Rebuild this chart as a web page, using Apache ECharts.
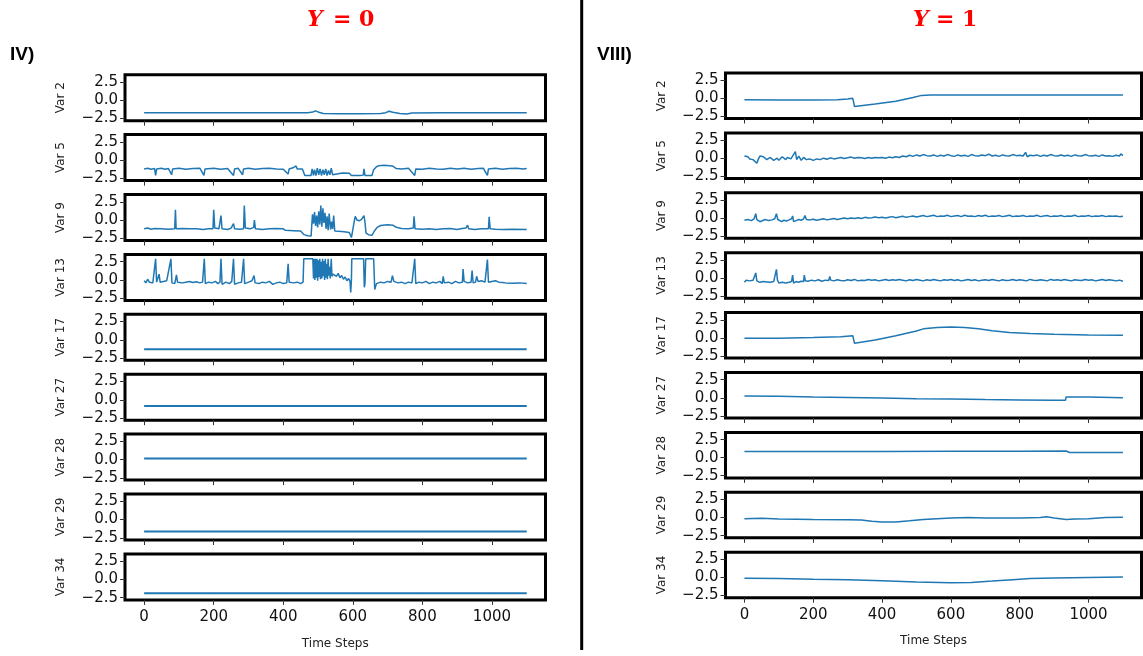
<!DOCTYPE html>
<html>
<head>
<meta charset="utf-8">
<script src="https://cdn.jsdelivr.net/npm/echarts@6.0.0/dist/echarts.min.js"></script>
<style>
html,body{margin:0;padding:0;background:#fff;}
#chart{width:1143px;height:656px;}
</style>
</head>
<body>
<div id="chart"></div>
<script>
// ---------- tick labels / categories ----------
const X_TICKS = [0, 200, 400, 600, 800, 1000];
const Y_TICKS = [-2.5, 0, 2.5];
const VAR_NAMES = ['Var 2', 'Var 5', 'Var 9', 'Var 13', 'Var 17', 'Var 27', 'Var 28', 'Var 29', 'Var 34'];
const PANEL_TITLES = ['Y = 0', 'Y = 1'];
const PANEL_TAGS = ['IV)', 'VIII)'];
const X_NAME = 'Time Steps';

// ---------- left panel (Y = 0) series: [time step, value] ----------
const L2 = [[0,-1.72],[100,-1.7],[200,-1.72],[300,-1.7],[400,-1.7],[470,-1.7],[485,-1.6],[493,-1.45],[500,-1.6],[515,-1.82],[560,-1.85],[620,-1.85],[680,-1.82],[695,-1.7],[704,-1.5],[715,-1.65],[735,-1.82],[755,-1.88],[770,-1.75],[850,-1.72],[1000,-1.72],[1100,-1.72]];
const L5 = [[0,-1.2],[10,-1.1],[20,-1.25],[30,-1.15],[33,-2.1],[36,-1.2],[50,-1.1],[60,-1.25],[70,-1.15],[79,-2.0],[82,-1.2],[100,-1.1],[120,-1.25],[140,-1.15],[160,-1.1],[172,-2.1],[175,-1.2],[200,-1.1],[220,-1.25],[240,-1.15],[257,-2.1],[260,-1.2],[270,-1.1],[283,-2.0],[286,-1.2],[300,-1.1],[320,-1.25],[340,-1.15],[360,-1.1],[380,-1.2],[400,-1.25],[414,-1.9],[417,-1.2],[430,-1.0],[437,-0.8],[440,-1.2],[455,-1.2],[462,-2.1],[480,-2.1],[483,-1.2],[487,-2.1],[490,-1.3],[494,-2.1],[498,-1.1],[502,-2.0],[506,-1.2],[510,-2.1],[514,-1.3],[518,-2.0],[522,-1.2],[526,-2.1],[530,-1.4],[534,-2.0],[538,-1.1],[542,-2.0],[545,-1.8],[570,-1.75],[590,-1.8],[596,-2.1],[620,-2.1],[630,-2.05],[632,-1.2],[635,-2.1],[655,-2.1],[660,-1.3],[668,-0.9],[675,-0.75],[690,-0.7],[705,-0.75],[714,-0.8],[725,-1.15],[740,-1.2],[760,-1.1],[778,-2.1],[781,-1.2],[800,-1.25],[820,-1.1],[840,-1.2],[860,-1.25],[880,-1.1],[900,-1.2],[920,-1.1],[940,-1.25],[960,-1.15],[975,-1.1],[987,-2.1],[990,-1.2],[1010,-1.1],[1030,-1.25],[1050,-1.15],[1070,-1.1],[1090,-1.2],[1100,-1.15]];
const L9 = [[0,-1.2],[10,-1.1],[20,-1.25],[30,-1.15],[50,-1.2],[70,-1.25],[88,-1.2],[90,1.4],[92,-1.2],[110,-1.15],[130,-1.2],[150,-1.2],[170,-1.3],[185,-1.2],[198,-1.2],[200,1.4],[203,-1.1],[215,-1.2],[221,0.6],[224,-1.2],[240,-1.3],[250,-1.1],[257,-0.5],[260,-1.2],[275,-1.25],[286,-1.2],[288,2.0],[291,-1.1],[305,-1.2],[315,-1.0],[317,0.0],[320,-1.2],[340,-1.3],[360,-1.2],[380,-1.15],[400,-1.2],[406,-1.4],[430,-1.45],[450,-1.5],[460,-2.0],[470,-2.15],[480,-2.2],[484,0.8],[487,-0.5],[490,1.1],[493,-0.8],[496,0.6],[499,-1.0],[502,1.2],[505,-0.6],[508,2.0],[511,-0.9],[514,1.6],[517,-0.4],[520,1.0],[523,-1.2],[526,0.5],[529,-1.4],[532,0.9],[536,-1.3],[539,-0.2],[542,-1.2],[545,0.6],[548,-1.5],[560,-1.55],[575,-1.6],[590,-1.7],[596,-2.4],[600,-2.3],[604,-0.2],[607,0.5],[612,0.0],[618,-0.1],[625,0.1],[632,0.6],[635,-0.3],[638,-1.8],[645,-2.0],[655,-2.1],[662,-1.5],[670,-1.0],[680,-0.75],[700,-0.65],[715,-0.7],[725,-1.0],[740,-1.15],[760,-1.2],[774,-1.1],[776,0.5],[779,-1.2],[800,-1.25],[820,-1.2],[840,-1.3],[860,-1.2],[880,-1.15],[900,-1.3],[910,-1.2],[925,-1.1],[930,-0.7],[933,-1.2],[950,-1.3],[970,-1.2],[990,-1.2],[992,0.45],[995,-1.2],[1010,-1.25],[1030,-1.3],[1060,-1.25],[1100,-1.3]];
const L13 = [[0,-0.1],[5,-0.4],[10,0.1],[15,-0.3],[20,-0.1],[25,-0.4],[30,-0.2],[33,2.9],[36,-0.3],[40,-0.1],[43,0.8],[46,-0.3],[50,-0.5],[55,-0.2],[60,-0.4],[65,-0.1],[70,-0.3],[77,2.9],[80,-0.4],[85,-0.2],[88,-0.5],[93,0.7],[96,-0.3],[100,-0.2],[110,-0.4],[120,-0.3],[130,-0.2],[140,-0.35],[150,-0.25],[160,-0.4],[168,-0.3],[173,2.9],[176,-0.5],[185,-0.3],[195,-0.4],[205,-0.2],[212,-0.5],[218,-0.3],[221,2.9],[224,-0.6],[235,-0.3],[245,-0.5],[252,-0.2],[257,2.9],[260,-0.6],[270,-0.4],[280,-0.3],[286,2.9],[289,-0.5],[300,-0.3],[310,-0.1],[316,0.6],[319,-0.4],[330,-0.5],[340,-0.3],[350,-0.4],[360,-0.2],[370,-0.6],[380,-0.4],[390,-0.3],[400,-0.5],[410,-0.4],[414,2.2],[417,-0.3],[430,-0.4],[440,-0.3],[450,-0.5],[457,-0.3],[459,2.9],[485,2.9],[487,0.2],[489,2.9],[491,0.0],[493,2.9],[495,0.3],[497,2.9],[499,-0.1],[501,2.7],[503,0.4],[505,2.9],[507,0.1],[509,2.5],[511,0.2],[513,2.9],[515,0.5],[517,2.6],[519,0.0],[521,2.9],[523,0.3],[525,2.2],[527,0.1],[529,2.9],[531,0.6],[533,1.8],[535,0.2],[538,2.9],[540,0.5],[543,0.8],[548,1.0],[553,0.5],[558,0.9],[563,0.3],[568,0.6],[573,0.1],[578,0.4],[583,-0.1],[588,0.2],[592,-0.2],[594,-1.7],[596,0.0],[597,2.9],[631,2.9],[633,-1.0],[635,-0.5],[637,2.9],[660,2.9],[663,-1.3],[668,-0.5],[680,-0.3],[690,-0.4],[700,-0.2],[710,-0.3],[714,0.6],[718,-0.2],[730,-0.4],[740,-0.3],[750,-0.5],[760,-0.3],[770,-0.4],[778,2.9],[781,-0.5],[790,-0.3],[800,-0.4],[810,-0.2],[820,-0.5],[830,-0.3],[840,-0.4],[850,-0.2],[857,-0.5],[860,0.5],[863,-0.4],[875,-0.3],[885,-0.5],[895,-0.2],[905,-0.4],[915,-0.3],[917,1.5],[920,-0.2],[930,-0.4],[940,-0.3],[943,1.3],[946,-0.4],[953,-0.3],[956,0.5],[960,-0.2],[970,-0.1],[980,-0.3],[987,2.8],[990,-0.3],[1000,-0.2],[1010,-0.1],[1020,-0.3],[1030,-0.35],[1040,-0.4],[1060,-0.45],[1080,-0.4],[1100,-0.5]];
const L17 = [[0,-1.3],[550,-1.3],[1100,-1.3]];
const L27 = [[0,-0.85],[550,-0.85],[1100,-0.85]];
const L28 = [[0,0.15],[550,0.15],[1100,0.15]];
const L29 = [[0,-1.62],[550,-1.62],[1100,-1.62]];
const L34 = [[0,-1.88],[550,-1.88],[1100,-1.88]];

// ---------- right panel (Y = 1) series ----------
const R2 = [[0,-0.22],[100,-0.25],[200,-0.25],[270,-0.22],[300,-0.1],[315,0.0],[318,-0.05],[320,-1.15],[380,-0.8],[440,-0.4],[490,0.1],[515,0.4],[540,0.45],[700,0.45],[900,0.45],[1100,0.45]];
const R5 = [[0,0.3],[5,0.1],[10,0.2],[15,-0.1],[20,0.1],[25,-0.2],[30,-0.4],[36,-0.7],[40,-0.2],[45,0.3],[50,0.5],[55,0.2],[60,0.1],[65,-0.2],[70,-0.1],[75,0.1],[80,0.0],[85,-0.3],[90,-0.2],[95,0.0],[100,-0.3],[105,-0.1],[110,0.2],[115,0.0],[120,-0.2],[125,0.1],[130,0.3],[135,-0.1],[140,0.0],[148,0.9],[152,-0.2],[158,0.3],[165,-0.3],[172,0.1],[180,-0.2],[185,0.0],[190,-0.1],[195,-0.35],[200,-0.3],[205,-0.05],[210,-0.1],[215,-0.3],[220,-0.2],[225,0.05],[230,0.0],[235,-0.2],[240,-0.15],[250,0.05],[260,-0.1],[270,0.0],[280,0.1],[290,-0.05],[300,0.05],[310,0.15],[320,0.0],[330,0.1],[340,0.05],[350,-0.05],[360,0.1],[370,0.0],[380,0.1],[390,0.05],[400,0.1],[410,0.0],[420,0.15],[430,0.05],[440,0.2],[450,0.1],[460,0.3],[470,0.2],[480,0.4],[490,0.25],[500,0.45],[510,0.3],[520,0.5],[530,0.35],[540,0.3],[550,0.45],[560,0.25],[570,0.4],[580,0.3],[590,0.5],[600,0.35],[610,0.25],[620,0.45],[630,0.3],[640,0.4],[650,0.25],[660,0.5],[670,0.35],[680,0.3],[690,0.45],[700,0.35],[710,0.55],[720,0.3],[730,0.4],[740,0.25],[750,0.45],[760,0.35],[770,0.3],[780,0.5],[790,0.35],[800,0.4],[810,0.3],[817,0.8],[822,0.2],[830,0.4],[840,0.35],[850,0.45],[860,0.25],[870,0.4],[880,0.3],[890,0.5],[900,0.35],[910,0.3],[920,0.45],[930,0.3],[940,0.4],[950,0.25],[960,0.45],[970,0.35],[980,0.3],[990,0.5],[1000,0.35],[1010,0.3],[1020,0.4],[1030,0.25],[1040,0.45],[1050,0.3],[1060,0.35],[1070,0.25],[1080,0.4],[1090,0.3],[1094,0.6],[1100,0.35]];
const R9 = [[0,-0.3],[10,-0.2],[20,-0.35],[28,-0.1],[33,0.6],[36,-0.2],[40,-0.4],[45,-0.5],[50,-0.3],[60,-0.2],[70,-0.35],[80,-0.25],[88,-0.1],[93,0.6],[97,-0.2],[102,-0.45],[108,-0.5],[115,-0.3],[122,-0.4],[130,-0.25],[137,-0.1],[140,0.3],[143,-0.5],[150,-0.35],[158,-0.2],[165,-0.3],[172,-0.1],[176,0.35],[180,-0.2],[190,-0.25],[200,-0.15],[210,-0.3],[220,-0.2],[230,-0.1],[240,-0.25],[250,-0.15],[260,-0.05],[270,-0.2],[280,-0.1],[290,0.0],[300,-0.1],[310,0.0],[320,-0.05],[330,0.05],[340,-0.05],[350,0.1],[360,0.0],[370,0.05],[380,0.15],[390,0.05],[400,0.1],[410,0.0],[420,0.1],[430,0.2],[440,0.05],[450,0.15],[460,0.25],[470,0.1],[480,0.2],[490,0.3],[500,0.15],[510,0.25],[520,0.35],[530,0.2],[540,0.3],[550,0.4],[560,0.2],[570,0.3],[580,0.25],[590,0.4],[600,0.2],[610,0.3],[620,0.35],[630,0.2],[640,0.4],[650,0.25],[660,0.3],[670,0.2],[680,0.35],[690,0.25],[700,0.4],[710,0.2],[720,0.3],[730,0.25],[740,0.35],[750,0.2],[760,0.3],[770,0.4],[780,0.2],[790,0.3],[800,0.25],[810,0.35],[820,0.2],[830,0.3],[840,0.25],[850,0.4],[860,0.2],[870,0.3],[880,0.35],[890,0.2],[900,0.3],[910,0.25],[920,0.35],[930,0.2],[940,0.3],[950,0.25],[960,0.4],[970,0.2],[980,0.3],[990,0.25],[1000,0.35],[1010,0.2],[1020,0.3],[1030,0.25],[1040,0.35],[1050,0.2],[1060,0.3],[1070,0.25],[1080,0.3],[1090,0.2],[1100,0.25]];
const R13 = [[0,-0.6],[5,-0.3],[10,-0.5],[15,-0.4],[20,-0.55],[25,-0.3],[30,-0.45],[33,0.7],[36,-0.4],[40,-0.3],[45,-0.6],[50,-0.8],[55,-0.5],[60,-0.4],[65,-0.55],[70,-0.45],[75,-0.6],[80,-0.35],[85,-0.5],[90,-0.4],[93,1.2],[96,-0.3],[100,-0.7],[105,-0.8],[110,-0.6],[115,-0.5],[120,-0.7],[125,-0.45],[130,-0.6],[137,-0.5],[140,0.4],[143,-0.7],[150,-0.5],[157,-0.6],[165,-0.45],[172,-0.5],[174,0.4],[177,-0.4],[185,-0.45],[195,-0.3],[205,-0.4],[215,-0.25],[225,-0.45],[235,-0.3],[245,-0.35],[248,0.2],[251,-0.3],[260,-0.4],[270,-0.25],[280,-0.35],[290,-0.4],[300,-0.25],[310,-0.35],[320,-0.2],[330,-0.4],[340,-0.3],[350,-0.35],[360,-0.2],[370,-0.3],[380,-0.25],[390,-0.4],[400,-0.3],[410,-0.2],[420,-0.35],[430,-0.25],[440,-0.3],[450,-0.2],[455,0.05],[460,-0.3],[470,-0.4],[480,-0.25],[490,-0.35],[500,-0.2],[510,-0.3],[520,-0.4],[530,-0.25],[540,-0.35],[550,-0.2],[560,-0.3],[570,-0.4],[580,-0.25],[590,-0.3],[600,-0.2],[610,-0.35],[620,-0.25],[630,-0.4],[640,-0.3],[650,-0.2],[660,-0.35],[670,-0.25],[680,-0.4],[690,-0.3],[700,-0.25],[710,-0.35],[720,-0.2],[730,-0.3],[740,-0.4],[750,-0.25],[760,-0.35],[770,-0.3],[780,-0.2],[790,-0.35],[800,-0.25],[810,-0.3],[820,-0.4],[830,-0.2],[840,-0.3],[850,-0.35],[860,-0.25],[870,-0.3],[880,-0.4],[890,-0.2],[900,-0.3],[910,-0.25],[920,-0.35],[930,-0.2],[940,-0.3],[950,-0.4],[960,-0.25],[970,-0.3],[980,-0.35],[990,-0.2],[1000,-0.3],[1010,-0.25],[1020,-0.4],[1030,-0.3],[1040,-0.2],[1050,-0.35],[1060,-0.25],[1070,-0.3],[1080,-0.4],[1090,-0.3],[1100,-0.45]];
const R17 = [[0,-0.05],[100,-0.05],[200,0.05],[280,0.15],[315,0.3],[318,0.3],[320,-0.75],[380,-0.3],[440,0.3],[500,0.95],[520,1.25],[560,1.45],[600,1.5],[640,1.45],[680,1.25],[720,1.0],[770,0.75],[830,0.6],[900,0.5],[1000,0.4],[1100,0.35]];
const R27 = [[0,0.25],[100,0.2],[200,0.12],[300,0.05],[400,-0.02],[500,-0.12],[600,-0.18],[700,-0.25],[800,-0.3],[900,-0.35],[933,-0.35],[935,0.12],[1000,0.1],[1100,0.02]];
const R28 = [[0,0.85],[200,0.85],[400,0.85],[600,0.88],[800,0.9],[935,0.92],[945,0.72],[1100,0.72]];
const R29 = [[0,-0.15],[50,-0.1],[100,-0.2],[200,-0.28],[300,-0.3],[340,-0.35],[370,-0.5],[400,-0.62],[440,-0.6],[480,-0.45],[520,-0.25],[560,-0.15],[600,-0.05],[650,0.0],[700,-0.05],[800,-0.05],[860,0.0],[878,0.1],[900,-0.05],[935,-0.25],[960,-0.2],[1000,-0.15],[1050,0.0],[1100,0.05]];
const R34 = [[0,-0.12],[100,-0.15],[200,-0.25],[300,-0.3],[400,-0.45],[500,-0.62],[600,-0.72],[660,-0.68],[720,-0.5],[780,-0.3],[830,-0.15],[900,-0.08],[1000,0.0],[1100,0.05]];

const LEFT_SERIES = [L2, L5, L9, L13, L17, L27, L28, L29, L34];
const RIGHT_SERIES = [R2, R5, R9, R13, R17, R27, R28, R29, R34];

// ---------- layout ----------
const X_MIN = -55, X_MAX = 1154;
const Y_MIN = -2.8, Y_MAX = 3.5;
const LINE_COLOR = '#1f77b4';
const panels = [
  { left: 125, width: 420.5, top0: 74.7, h: 46, step: 59.9, data: LEFT_SERIES, nameGap: 38 },
  { left: 725.5, width: 416, top0: 73, h: 45.5, step: 59.9, data: RIGHT_SERIES, nameGap: 37 }
];

const fmtY = v => (v < 0 ? '\u2212' + Math.abs(v).toFixed(1) : v.toFixed(1));
const fmtX = v => String(v);

const grid = [], xAxis = [], yAxis = [], series = [];
panels.forEach((p, pi) => {
  p.data.forEach((d, i) => {
    const idx = grid.length;
    const isBottom = i === p.data.length - 1;
    grid.push({
      left: p.left, top: p.top0 + i * p.step, width: p.width, height: p.h,
      show: true, borderColor: '#000', borderWidth: 3, backgroundColor: 'transparent',
      containLabel: false, outerBoundsMode: 'none'
    });
    xAxis.push({
      type: 'value', gridIndex: idx, min: X_MIN, max: X_MAX, position: 'bottom',
      axisLine: { show: false, onZero: false }, splitLine: { show: false },
      axisTick: { show: true, customValues: X_TICKS, length: 5, inside: false, lineStyle: { color: '#333', width: 1 } },
      axisLabel: { show: isBottom, customValues: X_TICKS, margin: 10, fontSize: 15, color: '#111', fontFamily: 'DejaVu Sans', formatter: fmtX },
      name: isBottom ? X_NAME : '', nameLocation: 'middle', nameGap: p.nameGap,
      nameTextStyle: { fontSize: 12, color: '#222', fontFamily: 'DejaVu Sans' }
    });
    yAxis.push({
      type: 'value', gridIndex: idx, min: Y_MIN, max: Y_MAX, position: 'left',
      axisLine: { show: false, onZero: false }, splitLine: { show: false },
      axisTick: { show: true, customValues: Y_TICKS, length: 5, lineStyle: { color: '#333', width: 1 } },
      axisLabel: { show: true, customValues: Y_TICKS, margin: 7, fontSize: 15, color: '#111', fontFamily: 'DejaVu Sans', formatter: fmtY },
      name: VAR_NAMES[i], nameLocation: 'middle', nameRotate: 90, nameGap: 58,
      nameTextStyle: { fontSize: 12, color: '#222', fontFamily: 'DejaVu Sans' }
    });
    const flat = pi === 0 && i >= 4;
    series.push({
      type: 'line', xAxisIndex: idx, yAxisIndex: idx, data: d,
      showSymbol: false, symbol: 'none', clip: true,
      lineStyle: { color: LINE_COLOR, width: flat ? 2 : 1.5 },
      silent: true
    });
  });
});

const TITLE_FONT = '"DejaVu Serif"';
const graphic = [
  { type: 'line', shape: { x1: 581.7, y1: 0, x2: 581.7, y2: 650 }, style: { stroke: '#000', lineWidth: 3 } },
  { type: 'text', x: 307, y: 20, style: { text: 'Y', font: 'italic bold 22px ' + TITLE_FONT, fill: '#ff0000', textVerticalAlign: 'middle' } },
  { type: 'text', x: 333, y: 20, style: { text: PANEL_TITLES[0].slice(2), font: 'bold 22px ' + TITLE_FONT, fill: '#ff0000', textVerticalAlign: 'middle' } },
  { type: 'text', x: 913, y: 20, style: { text: 'Y', font: 'italic bold 22px ' + TITLE_FONT, fill: '#ff0000', textVerticalAlign: 'middle' } },
  { type: 'text', x: 936, y: 20, style: { text: PANEL_TITLES[1].slice(2), font: 'bold 22px ' + TITLE_FONT, fill: '#ff0000', textVerticalAlign: 'middle' } },
  { type: 'text', x: 10, y: 55, style: { text: PANEL_TAGS[0], font: 'bold 19px "Liberation Sans"', fill: '#000', textVerticalAlign: 'middle' } },
  { type: 'text', x: 597, y: 55, style: { text: PANEL_TAGS[1], font: 'bold 19px "Liberation Sans"', fill: '#000', textVerticalAlign: 'middle' } }
];

const chart = echarts.init(document.getElementById('chart'), null, { renderer: 'canvas' });
chart.setOption({
  animation: false,
  backgroundColor: '#fff',
  grid, xAxis, yAxis, series, graphic
});
</script>
</body>
</html>
